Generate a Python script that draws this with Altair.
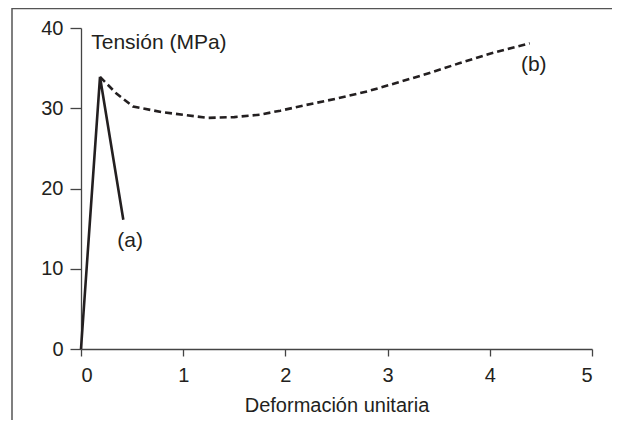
import altair as alt
import pandas as pd

# Curve (a): brittle
a_strain = [0.0, 0.186, 0.414]
a_stress = [0.0, 33.9, 16.1]

# Curve (b): ductile (dashed)
b_strain = [0.186, 0.35, 0.51, 0.8, 1.24, 1.5, 1.75, 1.95, 2.2, 2.5, 2.8, 3.1, 3.41, 3.7, 4.0, 4.39]
b_stress = [33.9, 31.8, 30.2, 29.5, 28.8, 28.9, 29.2, 29.7, 30.4, 31.2, 32.1, 33.2, 34.4, 35.6, 36.8, 38.1]

# Annotations
ann_text = ["(a)", "(b)"]
ann_x = [0.48, 4.43]
ann_y = [13.4, 35.4]

ylab_text = ["Tensión (MPa)"]
ylab_x = [0.1]
ylab_y = [38.1]

x_ticks = [0, 1, 2, 3, 4, 5]
y_ticks = [0, 10, 20, 30, 40]

FONT = "Liberation Sans"
INK = "#231f20"

df_a = pd.DataFrame({"x": a_strain, "y": a_stress, "o": range(len(a_strain))})
df_b = pd.DataFrame({"x": b_strain, "y": b_stress, "o": range(len(b_strain))})
df_ann = pd.DataFrame({"t": ann_text, "x": ann_x, "y": ann_y})
df_yl = pd.DataFrame({"t": ylab_text, "x": ylab_x, "y": ylab_y})

xscale = alt.Scale(domain=[0, 5], nice=False, zero=False)
yscale = alt.Scale(domain=[0, 40], nice=False, zero=False)

xaxis = alt.Axis(values=x_ticks, title="Deformación unitaria", grid=False,
                 tickSize=7, labelPadding=9, titlePadding=10, format="d")
yaxis = alt.Axis(values=y_ticks, title=None, grid=False,
                 tickSize=11, labelPadding=7, format="d")

line_a = alt.Chart(df_a).mark_line(color=INK, strokeWidth=2.6).encode(
    x=alt.X("x:Q", scale=xscale, axis=xaxis),
    y=alt.Y("y:Q", scale=yscale, axis=yaxis),
    order="o:Q",
)

line_b = alt.Chart(df_b).mark_line(color=INK, strokeWidth=2.6, strokeDash=[7, 4]).encode(
    x=alt.X("x:Q", scale=xscale),
    y=alt.Y("y:Q", scale=yscale),
    order="o:Q",
)

ann = alt.Chart(df_ann).mark_text(font=FONT, fontSize=21, color=INK, align="center", baseline="middle").encode(
    x=alt.X("x:Q", scale=xscale), y=alt.Y("y:Q", scale=yscale), text="t:N"
)

ylab = alt.Chart(df_yl).mark_text(font=FONT, fontSize=21, color=INK, align="left", baseline="middle").encode(
    x=alt.X("x:Q", scale=xscale), y=alt.Y("y:Q", scale=yscale), text="t:N"
)

# Figure frame (decoration): top and left borders
frame_top = alt.Chart(pd.DataFrame({"k": [0]})).mark_rule(color="#555555", strokeWidth=1.5).encode(
    x=alt.value(-69), x2=alt.value(531), y=alt.value(-19.5)
)
frame_left = alt.Chart(pd.DataFrame({"k": [0]})).mark_rule(color="#555555", strokeWidth=1.5).encode(
    x=alt.value(-69), y=alt.value(-20), y2=alt.value(400)
)

chart = alt.layer(frame_top, frame_left, line_b, line_a, ann, ylab).properties(
    width=511, height=321,
    autosize=alt.AutoSizeParams(type="none"),
    padding={"left": 73, "top": 20, "right": 21, "bottom": 71},
).configure_view(stroke=None).configure_axis(
    labelFont=FONT, titleFont=FONT, labelFontSize=20, titleFontSize=20,
    labelColor=INK, titleColor=INK, titleFontWeight="normal",
    domainColor="#444444", tickColor="#444444", domainWidth=1.3, tickWidth=1.3,
)

chart.save("out.html", embed_options={"renderer": "svg", "actions": False})
